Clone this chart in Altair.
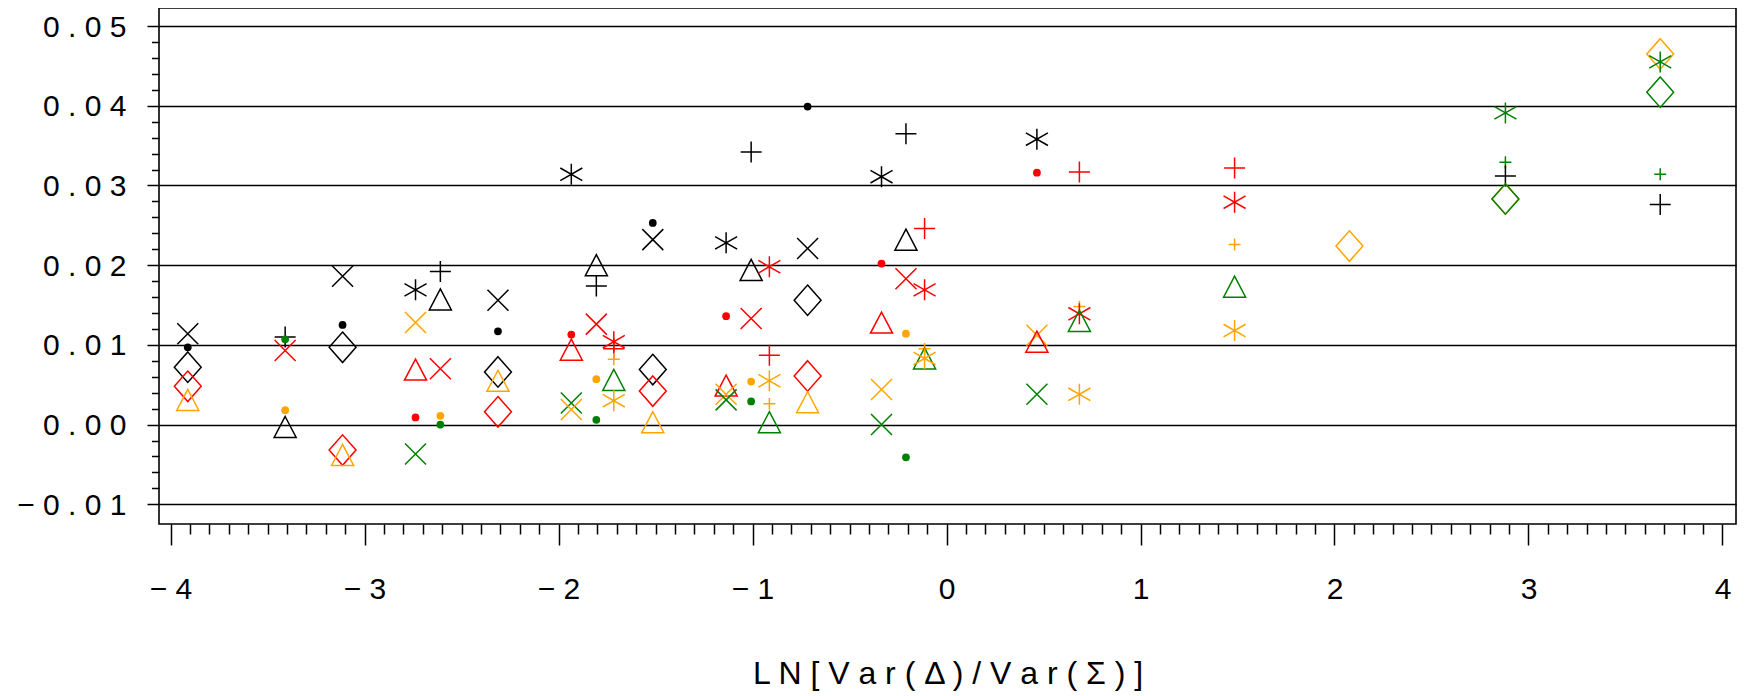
import altair as alt
import pandas as pd

# ---------------- data ----------------
x_pos = [
    -3.911, -3.911, -3.911, -3.911, -3.911,
    -3.409, -3.409, -3.409, -3.409, -3.409,
    -3.113, -3.113, -3.113, -3.113, -3.113,
    -2.737, -2.737, -2.737, -2.737, -2.737,
    -2.609, -2.609, -2.609, -2.609, -2.609,
    -2.312, -2.312, -2.312, -2.312, -2.312,
    -1.934, -1.934, -1.934, -1.934, -1.934,
    -1.805, -1.805, -1.805, -1.805, -1.805,
    -1.715, -1.715, -1.715, -1.715, -1.715,
    -1.514, -1.514, -1.514, -1.514, -1.514,
    -1.136, -1.136, -1.136, -1.136, -1.136,
    -1.007, -1.007, -1.007, -1.007, -1.007,
    -0.913, -0.913, -0.913, -0.913, -0.913,
    -0.716, -0.716, -0.716, -0.716, -0.716,
    -0.335, -0.335, -0.335, -0.335, -0.335,
    -0.209, -0.209, -0.209, -0.209, -0.209,
    -0.113, -0.113, -0.113, -0.113, -0.113,
    0.466, 0.466, 0.466, 0.466, 0.466,
    0.685, 0.685, 0.685, 0.685, 0.685,
    1.485, 1.485, 1.485, 1.485, 1.485,
    2.077,
    2.881, 2.881, 2.881, 2.881, 2.881,
    3.679, 3.679, 3.679, 3.679, 3.679,
]

y_val = [
    0.0114, 0.0097, 0.0072, 0.0048, 0.0031,
    0.0110, 0.0107, 0.0093, 0.0018, -0.0003,
    0.0186, 0.0125, 0.0097, -0.0032, -0.0038,
    0.0169, 0.0128, 0.0069, 0.0009, -0.0037,
    0.0192, 0.0157, 0.0070, 0.0011, 0.0000,
    0.0156, 0.0117, 0.0066, 0.0055, 0.0016,
    0.0314, 0.0113, 0.0094, 0.0027, 0.0019,
    0.0200, 0.0174, 0.0126, 0.0057, 0.0006,
    0.0104, 0.0095, 0.0082, 0.0056, 0.0030,
    0.0253, 0.0232, 0.0069, 0.0042, 0.0003,
    0.0228, 0.0136, 0.0049, 0.0038, 0.0031,
    0.0342, 0.0194, 0.0133, 0.0054, 0.0029,
    0.0198, 0.0087, 0.0055, 0.0026, 0.0003,
    0.0399, 0.0221, 0.0156, 0.0061, 0.0028,
    0.0311, 0.0202, 0.0128, 0.0044, 0.0000,
    0.0365, 0.0232, 0.0183, 0.0114, -0.0041,
    0.0246, 0.0169, 0.0095, 0.0083, 0.0083,
    0.0358, 0.0316, 0.0112, 0.0104, 0.0038,
    0.0317, 0.0148, 0.0139, 0.0130, 0.0038,
    0.0322, 0.0279, 0.0226, 0.0173, 0.0118,
    0.0224,
    0.0391, 0.0329, 0.0312, 0.0283, 0.0283,
    0.0465, 0.0455, 0.0417, 0.0314, 0.0276,
]

color_group = [
    "black", "black", "black", "red", "orange",
    "black", "green", "red", "orange", "black",
    "black", "black", "black", "red", "orange",
    "black", "orange", "red", "red", "green",
    "black", "black", "red", "orange", "green",
    "black", "black", "black", "orange", "red",
    "black", "red", "red", "green", "orange",
    "black", "black", "red", "orange", "green",
    "red", "red", "orange", "green", "orange",
    "black", "black", "black", "red", "orange",
    "black", "red", "red", "orange", "green",
    "black", "black", "red", "orange", "green",
    "red", "red", "orange", "orange", "green",
    "black", "black", "black", "red", "orange",
    "black", "red", "red", "orange", "green",
    "black", "black", "red", "orange", "green",
    "red", "red", "orange", "green", "orange",
    "black", "red", "orange", "red", "green",
    "red", "orange", "red", "green", "orange",
    "red", "red", "orange", "green", "orange",
    "orange",
    "green", "green", "black", "orange", "green",
    "orange", "green", "green", "green", "black",
]

marker = [
    "cross", "dot", "diamond", "diamond", "triangle",
    "plus", "dot", "cross", "dot", "triangle",
    "cross", "dot", "diamond", "diamond", "triangle",
    "star", "cross", "triangle", "dot", "cross",
    "plus", "triangle", "cross", "dot", "dot",
    "cross", "dot", "diamond", "triangle", "diamond",
    "star", "dot", "triangle", "cross", "cross",
    "triangle", "plus", "cross", "dot", "dot",
    "star", "plus", "smallplus", "triangle", "star",
    "dot", "cross", "diamond", "diamond", "triangle",
    "star", "dot", "triangle", "cross", "cross",
    "plus", "triangle", "cross", "dot", "dot",
    "star", "plus", "star", "smallplus", "triangle",
    "dot", "cross", "diamond", "diamond", "triangle",
    "star", "dot", "triangle", "cross", "cross",
    "plus", "triangle", "cross", "dot", "dot",
    "plus", "star", "smallplus", "triangle", "star",
    "star", "dot", "cross", "triangle", "cross",
    "plus", "smallplus", "star", "triangle", "star",
    "plus", "star", "smallplus", "triangle", "star",
    "diamond",
    "star", "smallplus", "plus", "diamond", "diamond",
    "diamond", "star", "diamond", "smallplus", "plus",
]

groups = ["black", "red", "orange", "green"]
group_colors = ["#000000", "#ff0000", "#ffa500", "#008000"]

x_major_ticks = [-4, -3, -2, -1, 0, 1, 2, 3, 4]
y_major_ticks = [-0.01, 0.0, 0.01, 0.02, 0.03, 0.04, 0.05]
x_minor_ticks = [round(i / 10, 1) for i in range(-40, 41) if i % 10 != 0]
y_minor_ticks = [round(i / 1000, 3) for i in range(-8, 49, 2) if i % 10 != 0]

x_title = "LN[Var(Δ)/Var(Σ)]"

# ---------------- styling ----------------
FONT = "Liberation Sans"
shape_names = ["cross", "plus", "star", "triangle", "diamond", "smallplus"]
shape_paths = [
    "M-1,-1L1,1M-1,1L1,-1",
    "M-1,0L1,0M0,-1L0,1",
    "M0,-1L0,1M-1.05,-0.6L1.05,0.6M-1.05,0.6L1.05,-0.6",
    "M0,-1L1.05,1L-1.05,1Z",
    "M0,-1.45L1.28,0L0,1.45L-1.28,0Z",
    "M-0.57,0L0.57,0M0,-0.57L0,0.57",
]

df = pd.DataFrame({"x": x_pos, "y": y_val, "group": color_group, "marker": marker})
sym = df[df["marker"] != "dot"]
dots = df[df["marker"] == "dot"]

x_scale = alt.Scale(domain=[-4.0593, 4.0696], nice=False, zero=False)
y_scale = alt.Scale(domain=[-0.01247, 0.05226], nice=False, zero=False)
color = alt.Color("group:N", scale=alt.Scale(domain=groups, range=group_colors), legend=None)
spaced = "join(split(datum.label, ''), ' ')"

x_major_axis = alt.Axis(
    orient="bottom", values=x_major_ticks, format="d", labelExpr=spaced,
    tickSize=21, tickWidth=1.5, tickColor="black", labelPadding=29,
    labelFlush=False, labelOverlap=False, grid=False, domain=False,
    labelFont=FONT, labelFontSize=30, labelColor="black",
    title=" ".join(x_title), titleY=149, titleBaseline="middle",
    titleFont=FONT, titleFontSize=32, titleFontWeight="normal", titleColor="black",
)
y_major_axis = alt.Axis(
    orient="left", values=y_major_ticks, format=".2f", labelExpr=spaced,
    tickSize=12, tickWidth=1.5, tickColor="black", labelPadding=21, labelOffset=1,
    labelOverlap=False, labelFlush=False, grid=True, gridColor="black", gridWidth=1.3,
    domain=False, labelFont=FONT, labelFontSize=30, labelColor="black",
)
x_minor_axis = alt.Axis(
    orient="bottom", values=x_minor_ticks, tickSize=10, tickWidth=1.5,
    tickColor="black", labels=False, grid=False, domain=False,
)
y_minor_axis = alt.Axis(
    orient="left", values=y_minor_ticks, tickSize=7.5, tickWidth=1.5,
    tickColor="black", labels=False, grid=False, domain=False,
)

symbols = alt.Chart(sym).mark_point(
    filled=False, size=441, strokeWidth=1.5, opacity=1
).encode(
    x=alt.X("x:Q", scale=x_scale, axis=x_major_axis),
    y=alt.Y("y:Q", scale=y_scale, axis=y_major_axis, title=None),
    color=color,
    shape=alt.Shape("marker:N", scale=alt.Scale(domain=shape_names, range=shape_paths), legend=None),
)

dot_layer = alt.Chart(dots).mark_point(
    filled=True, shape="circle", size=60, opacity=1
).encode(
    x=alt.X("x:Q", scale=x_scale, axis=x_minor_axis, title=None),
    y=alt.Y("y:Q", scale=y_scale, axis=y_minor_axis, title=None),
    color=color,
)

chart = alt.layer(symbols, dot_layer).resolve_axis(
    x="independent", y="independent"
).properties(
    width=1577, height=516,
    padding={"left": 151, "top": 0, "right": 4, "bottom": 172},
    autosize=alt.AutoSizeParams(type="none"),
).configure_view(stroke="black", strokeWidth=1.6)

chart.save("out.html", embed_options={"renderer": "svg", "actions": False})
